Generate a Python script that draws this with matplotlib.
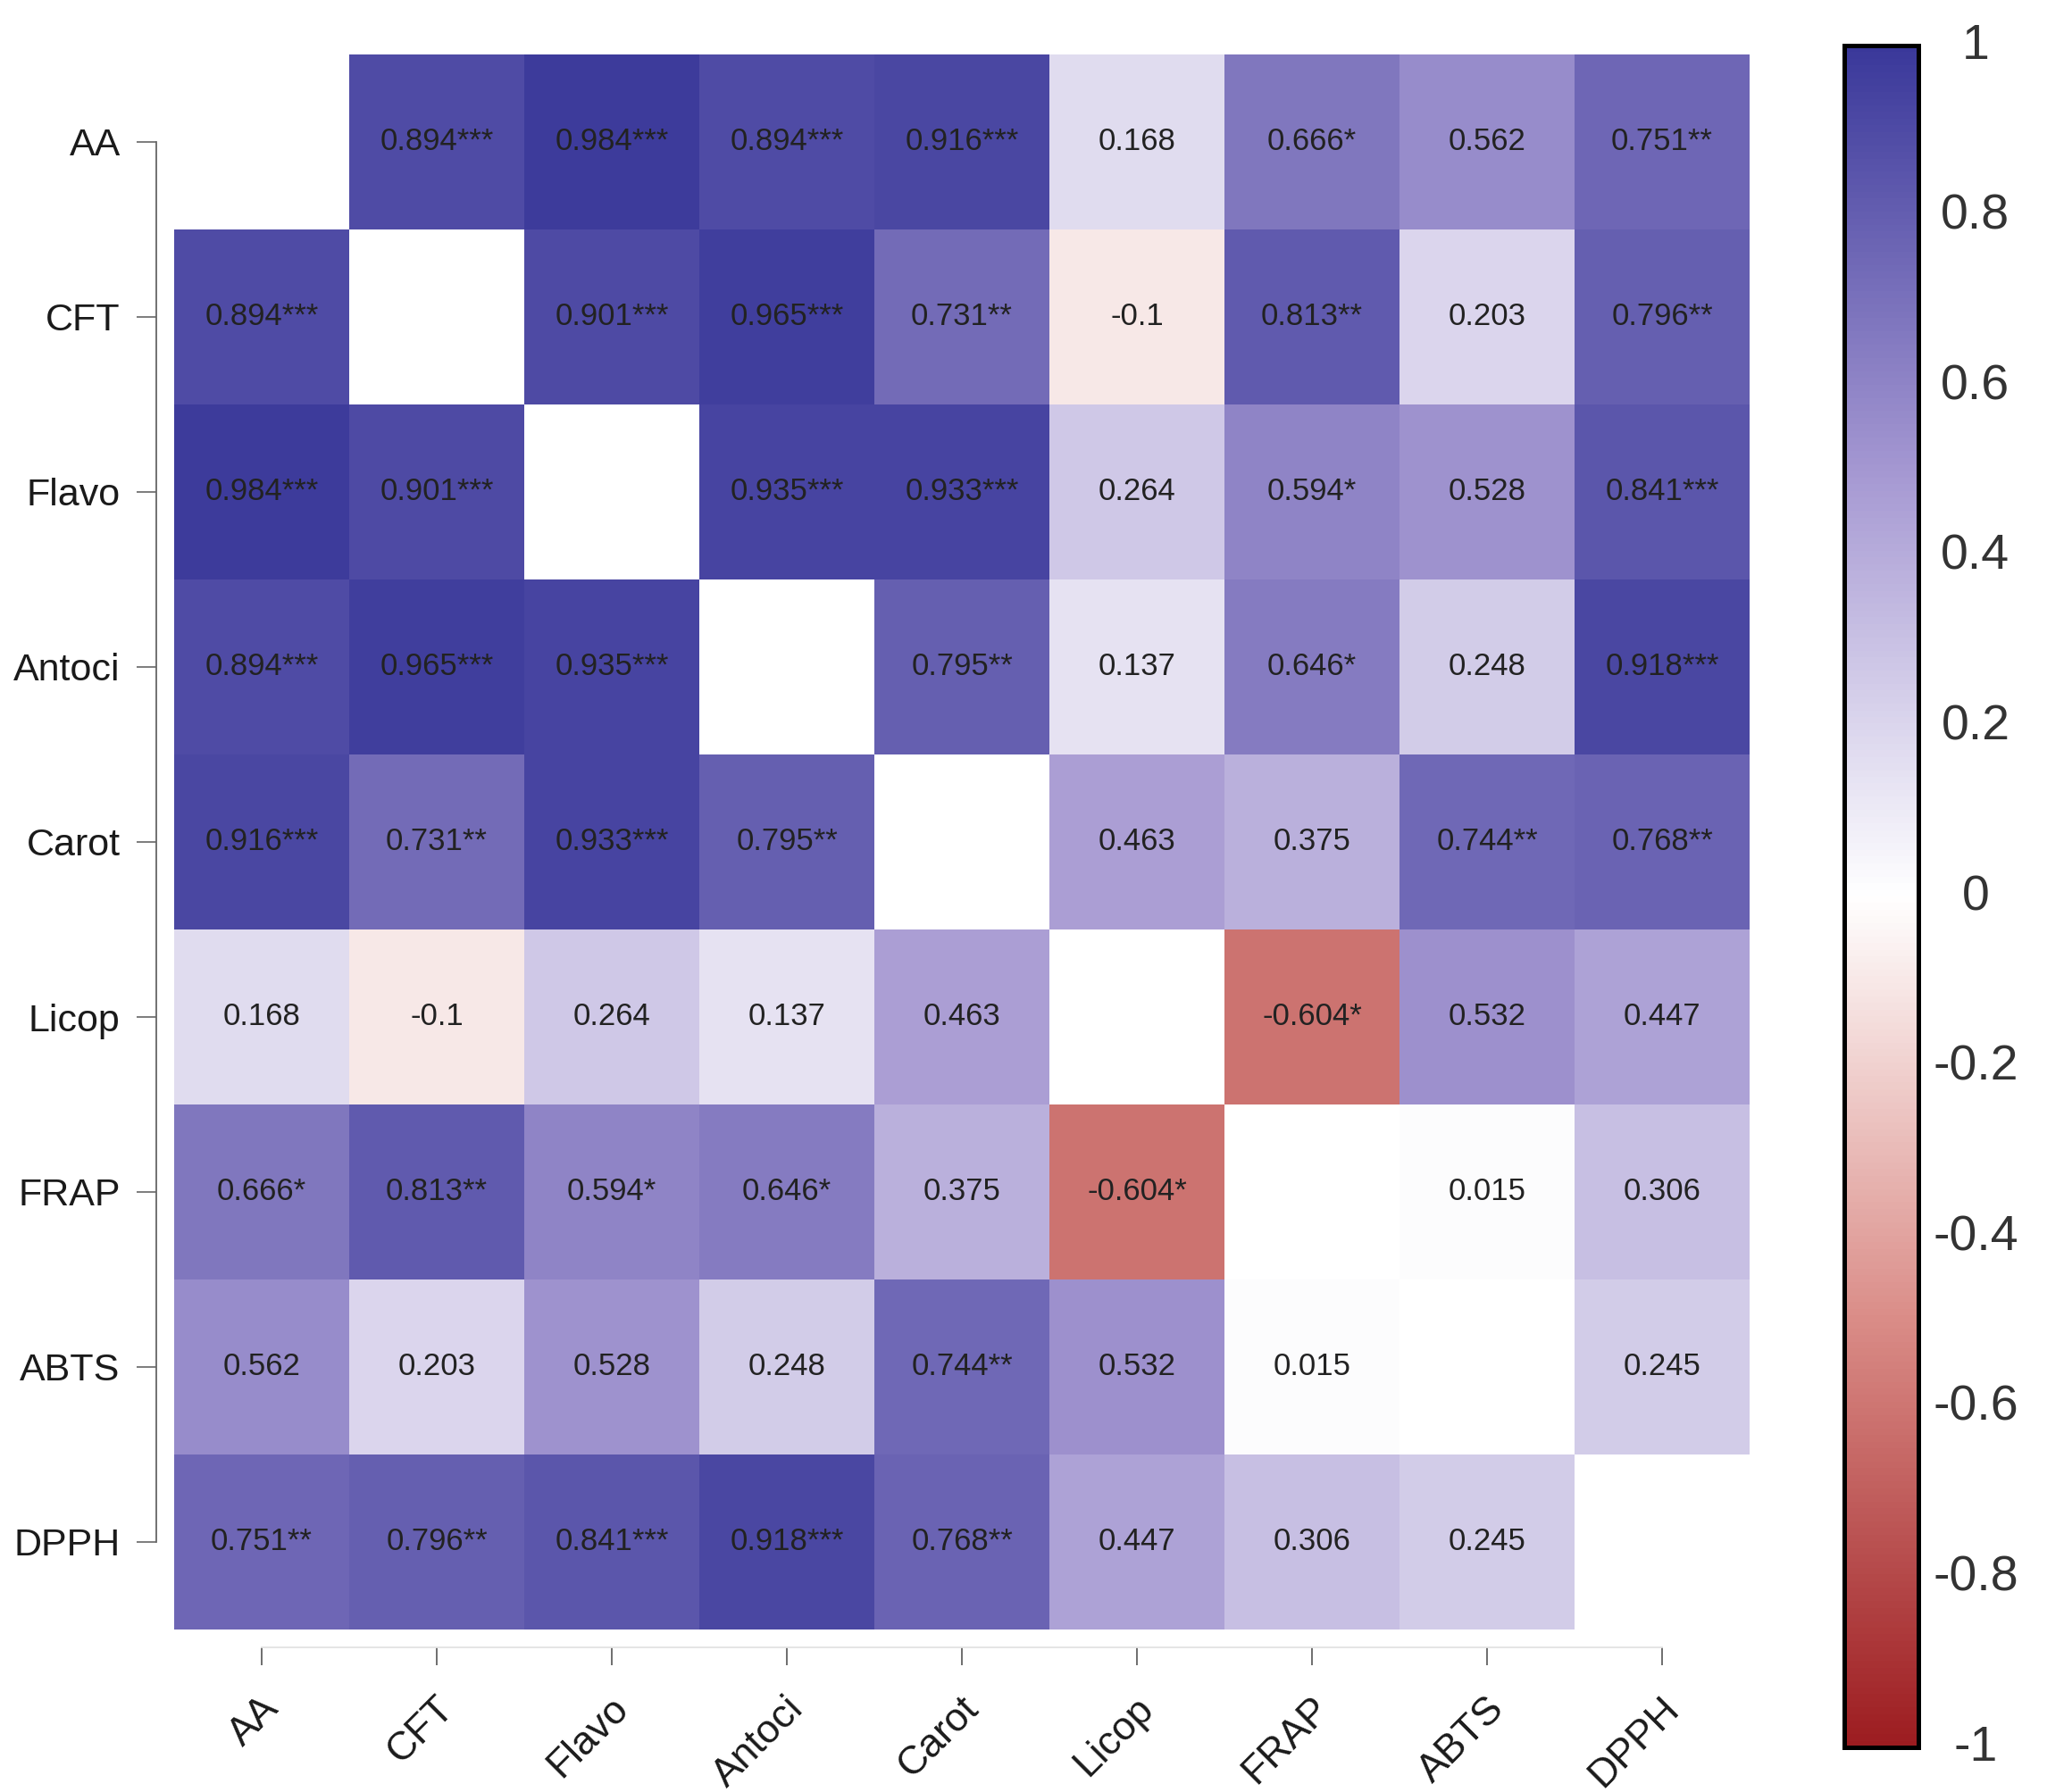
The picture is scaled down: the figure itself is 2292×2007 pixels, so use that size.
import numpy as np
import matplotlib
matplotlib.use("Agg")
import matplotlib.pyplot as plt
from matplotlib.colors import LinearSegmentedColormap
import matplotlib.transforms as mtransforms

plt.rcParams['font.family'] = ['Liberation Sans', 'DejaVu Sans']

variables = ["AA", "CFT", "Flavo", "Antoci", "Carot", "Licop", "FRAP", "ABTS", "DPPH"]

# Upper-triangle correlations (row by row, excluding diagonal)
upper_values = [
    [0.894, 0.984, 0.894, 0.916, 0.168, 0.666, 0.562, 0.751],
    [0.901, 0.965, 0.731, -0.1, 0.813, 0.203, 0.796],
    [0.935, 0.933, 0.264, 0.594, 0.528, 0.841],
    [0.795, 0.137, 0.646, 0.248, 0.918],
    [0.463, 0.375, 0.744, 0.768],
    [-0.604, 0.532, 0.447],
    [0.015, 0.306],
    [0.245],
]
upper_stars = [
    ["***", "***", "***", "***", "", "*", "", "**"],
    ["***", "***", "**", "", "**", "", "**"],
    ["***", "***", "", "*", "", "***"],
    ["**", "", "*", "", "***"],
    ["", "", "**", "**"],
    ["*", "", ""],
    ["", ""],
    [""],
]
cbar_ticks = [1, 0.8, 0.6, 0.4, 0.2, 0, -0.2, -0.4, -0.6, -0.8, -1]
cbar_labels = ["1", "0.8", "0.6", "0.4", "0.2", "0", "-0.2", "-0.4", "-0.6", "-0.8", "-1"]

n = len(variables)
corr = np.full((n, n), np.nan)
stars = [["" for _ in range(n)] for _ in range(n)]
for i, (rv, rs) in enumerate(zip(upper_values, upper_stars)):
    for k, (v, s) in enumerate(zip(rv, rs)):
        j = i + 1 + k
        corr[i, j] = corr[j, i] = v
        stars[i][j] = stars[j][i] = s

cmap = LinearSegmentedColormap.from_list(
    "rb",
    [(0.0, "#9c1c20"), (0.25, "#da8c87"), (0.5, "#ffffff"), (0.75, "#a598d2"), (1.0, "#3a389a")],
)
cmap.set_bad("white")

W, H = 2292, 2007
fig = plt.figure(figsize=(W / 100, H / 100), dpi=100)
ax = fig.add_axes([195 / W, (H - 1825) / H, 1764 / W, 1764 / H])
im = ax.imshow(np.ma.masked_invalid(corr), cmap=cmap, vmin=-1, vmax=1, aspect="auto")

for i in range(n):
    for j in range(n):
        if i == j:
            continue
        v = corr[i, j]
        txt = f"{v:g}" + stars[i][j]
        ax.text(j, i, txt, ha="center", va="center", fontsize=25, color="#222222")

# axes styling
for s in ["top", "right"]:
    ax.spines[s].set_visible(False)
ax.spines["left"].set_position(("outward", 14.4))
ax.spines["left"].set_bounds(0, n - 1)
ax.spines["left"].set_color("#666666")
ax.spines["left"].set_linewidth(1.3)
ax.spines["bottom"].set_position(("outward", 14.4))
ax.spines["bottom"].set_bounds(0, n - 1)
ax.spines["bottom"].set_color("#e3e3e3")
ax.spines["bottom"].set_linewidth(1.3)

ax.set_yticks(range(n))
ax.set_yticklabels(variables, fontsize=31, color="#1a1a1a")
ax.tick_params(axis="y", length=16, width=1.2, color="#666666", pad=13)

ax.set_xticks(range(n))
ax.set_xticklabels(variables, fontsize=32, color="#1a1a1a", rotation=45,
                   ha="right", va="top", rotation_mode="anchor")
ax.tick_params(axis="x", length=14.4, width=1.2, color="#555555", pad=20)
offset = mtransforms.ScaledTranslation(-2 / 100, 0, fig.dpi_scale_trans)
for lab in ax.get_xticklabels():
    lab.set_transform(lab.get_transform() + offset)
ax.xaxis.get_major_ticks()[0].tick1line.set_color("#e8e8e8")

# colorbar
cax = fig.add_axes([2065 / W, (H - 1957) / H, 83 / W, 1906 / H])
cb = fig.colorbar(im, cax=cax)
cb.outline.set_linewidth(3.6)
cb.outline.set_edgecolor("black")
cb.set_ticks(cbar_ticks)
cb.set_ticklabels(cbar_labels)
cax.tick_params(length=0, pad=46, labelsize=40, labelcolor="#333333")
up = mtransforms.ScaledTranslation(0, 5 / 100, fig.dpi_scale_trans)
for lab in cax.get_yticklabels():
    lab.set_ha("center")
    lab.set_transform(lab.get_transform() + up)

fig.savefig("out.png", dpi=100, facecolor="white")
